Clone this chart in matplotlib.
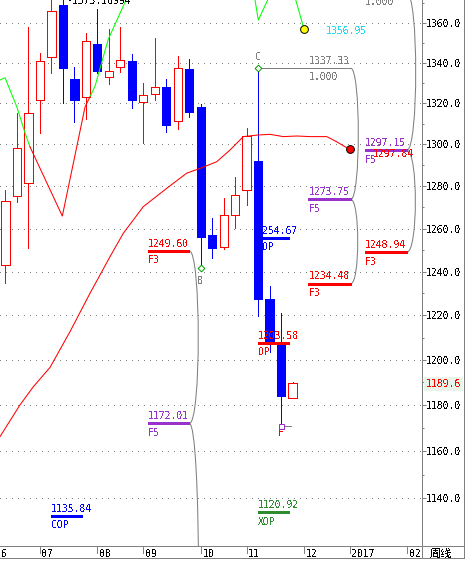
import matplotlib
matplotlib.use("Agg")
import matplotlib.pyplot as plt
from matplotlib.path import Path
from matplotlib.patches import PathPatch
from matplotlib.transforms import ScaledTranslation, blended_transform_factory
from matplotlib.ticker import FixedLocator, FuncFormatter, NullFormatter

plt.rcParams['font.family'] = ['DejaVu Sans Mono']
plt.rcParams['lines.antialiased'] = False
plt.rcParams['patch.antialiased'] = False
plt.rcParams['text.antialiased'] = False
plt.rcParams['lines.scale_dashes'] = False

# weekly bars, index 0 = week of 2016-06-06
opens = [1243.0, 1275.5, 1281.7, 1321.5, 1342.8, 1369.3, 1332.0, 1323.0, 1349.6, 1332.8,
         1337.8, 1340.9, 1320.5, 1324.5, 1328.1, 1311.2, 1337.0, 1318.4, 1257.1, 1251.6,
         1266.2, 1278.1, 1292.1, 1227.5, 1208.1, 1183.1]
highs = [1278.2, 1315.1, 1358.1, 1344.8, 1373.0, 1375.2, 1338.0, 1355.0, 1367.1, 1357.0,
         1358.1, 1344.4, 1330.0, 1352.4, 1332.0, 1343.4, 1341.9, 1319.7, 1265.0, 1274.4,
         1284.4, 1308.1, 1337.33, 1233.2, 1221.3, 1190.2]
lows = [1235.0, 1272.7, 1250.9, 1305.7, 1335.1, 1320.3, 1311.1, 1312.5, 1334.8, 1329.7,
        1335.6, 1317.9, 1300.9, 1321.7, 1306.2, 1307.6, 1313.5, 1241.8, 1246.3, 1250.4,
        1260.5, 1271.1, 1219.8, 1203.4, 1171.1, 1183.1]
closes = [1273.1, 1298.3, 1315.1, 1340.9, 1365.9, 1337.6, 1321.8, 1350.8, 1336.1, 1336.0,
          1341.3, 1321.5, 1324.0, 1327.9, 1309.6, 1337.3, 1315.9, 1256.3, 1250.9, 1266.2,
          1275.7, 1304.1, 1227.6, 1208.2, 1184.2, 1189.6]
last_price = 1189.6
high_text = "·1375.16994"

# moving average (extends past the last bar)
ma_x = [-0.48, 1.26, 2.42, 3.88, 5.62, 7.36, 9.10, 10.26, 12.00, 14.04, 15.78, 16.94,
        18.40, 19.55, 20.71, 22.02, 23.04, 24.20, 25.37, 26.52, 27.98, 28.85, 29.57, 30.0]
ma_y = [1166.3, 1180.1, 1188.1, 1196.7, 1212.7, 1230.1, 1246.9, 1257.8, 1270.3, 1279.0,
        1286.2, 1288.5, 1291.7, 1297.3, 1303.8, 1304.6, 1304.9, 1303.8, 1304.1, 1303.8,
        1303.8, 1301.3, 1298.9, 1297.84]
ma_end_text = "1297.84"

# trend line, green and red pieces
tr_green1_x = [-0.48, -0.04, 0.98, 1.70, 2.13]
tr_green1_y = [1331.5, 1332.6, 1318.4, 1305.6, 1298.9]
tr_red_x = [2.13, 4.95, 6.93, 7.40]
tr_red_y = [1298.9, 1265.9, 1318.3, 1323.7]
tr_green2_x = [7.40, 7.80, 8.95, 10.50, 10.85]
tr_green2_y = [1323.7, 1328.5, 1351.8, 1371.7, 1377.0]
tr_green3_x = [21.56, 21.73, 22.02, 22.84, 23.04]
tr_green3_y = [1377.0, 1371.7, 1361.5, 1371.7, 1377.0]
tr_green4_x = [25.04, 25.28, 26.0]
tr_green4_y = [1377.0, 1371.7, 1356.95]
tr_end_text = "1356.95"

# level lines: value text, code, drawn price, start / end week
lv_text = ["1249.60", "1172.01", "1135.84", "254.67", "1203.58", "1120.92",
           "1273.75", "1234.48", "1297.15", "1248.94"]
lv_code = ["F3", "F5", "COP", "OP", "OP", "XOP", "F5", "F3", "F5", "F3"]
lv_price = [1249.60, 1172.01, 1132.5, 1255.7, 1207.5, 1134.0,
            1273.75, 1234.48, 1297.15, 1248.94]
lv_x0 = [12.39, 12.39, 3.96, 22.40, 22.02, 22.02, 26.38, 26.38, 31.32, 31.32]
lv_x1 = [16.01, 16.01, 6.66, 24.70, 24.70, 24.70, 30.07, 30.07, 34.95, 34.95]
lv_color = ['#ff0000', '#9932cc', '#0000ff', '#0000ff', '#ff0000', '#2e8b2e',
            '#9932cc', '#ff0000', '#9932cc', '#ff0000']

# 1.000 levels of the projections
one_price = [1337.33, 1375.17]
one_x0 = [22.0, 31.32]
one_x1 = [30.0, 34.95]
one_lab_x = [26.38, 31.32]

# braces joining levels: end week, upper price, lower price, bulge (weeks)
br_x = [16.01, 16.01, 30.07, 30.07, 34.95, 34.95]
br_top = [1249.60, 1172.01, 1337.33, 1273.75, 1375.17, 1297.15]
br_bot = [1172.01, 1046.5, 1273.75, 1234.48, 1297.15, 1248.94]
br_w = [0.78, 0.80, 0.66, 0.61, 0.78, 0.75]

# swing points
pt_lab = ["C", "B", "F"]
pt_x = [22, 17, 24]
pt_y = [1337.33, 1241.8, 1171.1]

months = ["06", "07", "08", "09", "10", "11", "12", "2017", "02"]
month_x = [-1, 3, 8, 12, 17, 21, 26, 30, 35]
price_ticks = list(range(1140, 1361, 20))
price_minor = list(range(1150, 1371, 20))

W, H = 467, 563
GRAY = '#808080'
LW = 0.72   # straight 1px rules
LC = 0.75   # sloped lines, smoothed
XL, XR = -0.479, 36.25


def rect(x0, y0, x1, y1):
    return [x0 / W, 1 - y1 / H, (x1 - x0) / W, (y1 - y0) / H]


fig = plt.figure(figsize=(W / 100, H / 100), dpi=100)

frame = fig.add_axes(rect(0, 0, 464.3, 558.3))
frame.set_xticks([])
frame.set_yticks([])
for s in ['left', 'top']:
    frame.spines[s].set_visible(False)
for s in ['right', 'bottom']:
    frame.spines[s].set_color(GRAY)
    frame.spines[s].set_linewidth(LW)

ax = fig.add_axes(rect(0, 0, 421.7, 545.7))
ax.set_facecolor('none')
ax.set_yscale('log')
ax.set_xlim(XL, XR)
ax.set_ylim(1120.0, 1371.67)
for s in ['left', 'top', 'bottom']:
    ax.spines[s].set_visible(False)
ax.spines['right'].set_color(GRAY)
ax.spines['right'].set_linewidth(LW)
ax.set_xticks([])
ax.yaxis.set_ticks_position('right')
ax.yaxis.set_major_locator(FixedLocator(price_ticks))
ax.yaxis.set_major_formatter(FuncFormatter(lambda v, p: f"{v:.1f}"))
ax.yaxis.set_minor_locator(FixedLocator(price_minor))
ax.yaxis.set_minor_formatter(NullFormatter())
ax.tick_params(axis='y', which='major', length=2.9, width=LW, color=GRAY, pad=0.3,
               labelsize=7, labelcolor='black')
ax.tick_params(axis='y', which='minor', length=1.6, width=LW, color=GRAY)
ax.grid(axis='y', which='major', color=GRAY, lw=LW, linestyle=(0, (0.72, 3.6)), zorder=0)
ax.set_axisbelow(True)

# candles
bw = 0.72
for i in range(len(opens)):
    o, h, l, c = opens[i], highs[i], lows[i], closes[i]
    if c >= o:
        ax.vlines(i, c, h, color='#ff0000', lw=LW, zorder=3)
        ax.vlines(i, l, o, color='#ff0000', lw=LW, zorder=3)
        ax.bar(i, c - o, bottom=o, width=bw, facecolor='white', edgecolor='#ff0000',
               lw=LW, zorder=3)
    else:
        ax.vlines(i, l, h, color='#0000ff', lw=LW, zorder=3)
        ax.bar(i, o - c, bottom=c, width=bw, facecolor='#0000ff', edgecolor='#0000ff',
               lw=LW, zorder=3)

smooth = dict(lw=LC, zorder=4, antialiased=True)
ax.plot(ma_x, ma_y, color='#ff0000', **smooth)
ax.plot(tr_green1_x, tr_green1_y, color='#00ff00', **smooth)
ax.plot(tr_red_x, tr_red_y, color='#ff0000', **smooth)
for xs, ys in [(tr_green2_x, tr_green2_y), (tr_green3_x, tr_green3_y), (tr_green4_x, tr_green4_y)]:
    ax.plot(xs, ys, color='#00ff00', **smooth)


def label(x, y, s, color, dy, ha='left', size=7, z=6):
    tr = ax.transData + ScaledTranslation(0, -dy / 100, fig.dpi_scale_trans)
    ax.text(x, y, s, color=color, fontsize=size, ha=ha, va='center_baseline',
            transform=tr, clip_on=True, zorder=z)


# braces
for x, a, b, w in zip(br_x, br_top, br_bot, br_w):
    c = w * 4 / 3
    path = Path([(x, a), (x + c, a), (x + c, b), (x, b)],
                [Path.MOVETO, Path.CURVE4, Path.CURVE4, Path.CURVE4])
    ax.add_patch(PathPatch(path, facecolor='none', edgecolor=GRAY, lw=LC, zorder=4,
                           antialiased=True))

# projection 1.000 levels
for p, x0, x1, lx in zip(one_price, one_x0, one_x1, one_lab_x):
    ax.plot([x0, x1], [p, p], color=GRAY, lw=LW, zorder=4)
    label(lx, p, f"{p:.2f}", GRAY, -8.3)
    label(lx, p, "1.000", GRAY, 8.0)

# level lines
for t, code, p, x0, x1, col in zip(lv_text, lv_code, lv_price, lv_x0, lv_x1, lv_color):
    ax.plot([x0, x1], [p, p], color=col, lw=1.8, solid_capstyle='butt', zorder=5)
    label(x0, p, t, col, -8.3)
    label(x0, p, code, col, 8.3)

# swing markers
ax.plot(pt_x[0], pt_y[0], marker='D', ms=3.4, mfc='white', mec='#00a000', mew=LW, zorder=7)
ax.plot(pt_x[1], pt_y[1], marker='D', ms=3.4, mfc='white', mec='#00a000', mew=LW, zorder=7)
ax.plot([pt_x[2] + 0.2, pt_x[2] + 0.84], [pt_y[2], pt_y[2]], color=GRAY, lw=LW, zorder=6)
ax.plot(pt_x[2], pt_y[2], marker='s', ms=3.6, mfc='white', mec='#9932cc', mew=LW, zorder=7)
label(pt_x[0], pt_y[0], pt_lab[0], GRAY, -12, ha='center')
label(pt_x[1], pt_y[1], pt_lab[1], GRAY, 12, ha='center')
label(pt_x[2], pt_y[2], pt_lab[2], '#ff0000', 6.5, ha='center')

# end points of the projected lines
ax.plot(tr_green4_x[-1], tr_green4_y[-1], marker='o', ms=5.6, mfc='#ffff00', mec='black',
        mew=0.7, zorder=7, antialiased=True)
ax.plot(ma_x[-1], ma_y[-1], marker='o', ms=5.6, mfc='#ff0000', mec='black', mew=0.7,
        zorder=7, antialiased=True)
ax.annotate(tr_end_text, (tr_green4_x[-1], tr_green4_y[-1]), xytext=(22, -1),
            textcoords='offset pixels', color='#22ddee', fontsize=7, va='center_baseline',
            zorder=7)
ax.annotate(ma_end_text, (ma_x[-1], ma_y[-1]), xytext=(23, -4), textcoords='offset pixels',
            color='#ff0000', fontsize=7, va='center_baseline', zorder=5)

label(5.33, 1371.67, high_text, 'black', 0)

# last price tag on the price scale
tag = blended_transform_factory(ax.transAxes, ax.transData) + \
    ScaledTranslation(4 / 100, 0, fig.dpi_scale_trans)
ax.text(1.0, last_price, f"{last_price:.1f}", transform=tag, color='#ff0000', fontsize=7,
        va='center_baseline', ha='left', clip_on=False, zorder=10,
        bbox=dict(boxstyle='square,pad=0.2', fc='#e8f4e8', ec='none'))

# time strip
axb = fig.add_axes(rect(0, 545.7, 464.3, 558.3))
axb.set_facecolor('none')
axb.set_xlim(XL, (464.3 - 5.5) / 11.48)
axb.set_ylim(0, 1)
axb.set_xticks([])
axb.set_yticks([])
for s in ['left', 'right', 'bottom']:
    axb.spines[s].set_visible(False)
axb.spines['top'].set_color(GRAY)
axb.spines['top'].set_linewidth(LW)
axb.vlines(month_x, 0.39, 1, color=GRAY, lw=LW)
axb.axvline(XR, color=GRAY, lw=LW)
for m, x in zip(months, month_x):
    axb.text(x + 0.15, 0.45, m, fontsize=7, ha='left', va='center_baseline', clip_on=True)
axb.text(37.93, 0.45, "周线", fontsize=8, family=['Noto Sans CJK SC', 'DejaVu Sans'],
         ha='center', va='center_baseline')

fig.savefig("out.png", dpi=100, facecolor='white')
